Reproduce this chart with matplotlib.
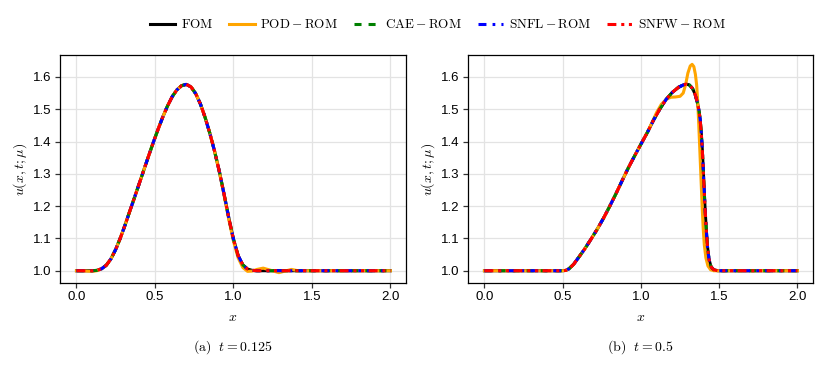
import matplotlib
matplotlib.use("Agg")
import matplotlib.pyplot as plt

plt.rcParams["font.family"] = ["Liberation Sans", "DejaVu Sans"]
plt.rcParams["mathtext.fontset"] = "cm"

# (a) t = 0.125
x_a = [0.00, 0.10, 0.13, 0.16, 0.19, 0.22, 0.25, 0.28, 0.31, 0.34, 0.37, 0.40,
       0.43, 0.46, 0.49, 0.52, 0.55, 0.58, 0.61, 0.64, 0.67, 0.70, 0.73, 0.76,
       0.79, 0.82, 0.85, 0.88, 0.91, 0.94, 0.97, 1.00, 1.03, 1.06, 1.09, 1.12,
       1.15, 2.00]
fom_a = [1.000, 1.000, 1.001, 1.006, 1.017, 1.037, 1.066, 1.102, 1.142, 1.185,
         1.227, 1.270, 1.313, 1.356, 1.398, 1.438, 1.476, 1.510, 1.539, 1.560,
         1.573, 1.577, 1.569, 1.548, 1.516, 1.474, 1.425, 1.370, 1.308, 1.238,
         1.165, 1.098, 1.047, 1.018, 1.005, 1.001, 1.000, 1.000]

x_a_pod = [0.00, 0.06, 0.10, 0.13, 0.16, 0.19, 0.22, 0.25, 0.28, 0.31, 0.34, 0.37,
           0.40, 0.43, 0.46, 0.49, 0.52, 0.55, 0.58, 0.61, 0.64, 0.67, 0.70, 0.73,
           0.76, 0.79, 0.82, 0.85, 0.88, 0.91, 0.94, 0.97, 1.00, 1.03, 1.06, 1.09,
           1.12, 1.15, 1.19, 1.24, 1.29, 1.33, 1.37, 1.41, 2.00]
pod_a = [1.000, 0.999, 0.998, 1.000, 1.006, 1.017, 1.037, 1.066, 1.102, 1.142,
         1.185, 1.227, 1.270, 1.313, 1.356, 1.398, 1.438, 1.476, 1.510, 1.539,
         1.560, 1.573, 1.577, 1.569, 1.548, 1.516, 1.474, 1.425, 1.370, 1.306,
         1.235, 1.160, 1.092, 1.040, 1.010, 0.998, 0.999, 1.004, 1.008, 1.001,
         0.994, 0.999, 1.004, 1.000, 1.000]

# (b) t = 0.5
x_b = [0.00, 0.50, 0.52, 0.54, 0.57, 0.60, 0.64, 0.68, 0.72, 0.76, 0.80, 0.84,
       0.88, 0.92, 0.96, 1.00, 1.04, 1.08, 1.12, 1.16, 1.20, 1.24, 1.27, 1.29,
       1.31, 1.33, 1.345, 1.36, 1.37, 1.378, 1.385, 1.392, 1.398, 1.404, 1.410,
       1.417, 1.425, 1.435, 1.448, 1.465, 1.49, 2.00]
fom_b = [1.000, 1.000, 1.001, 1.006, 1.020, 1.040, 1.067, 1.097, 1.128, 1.162,
         1.199, 1.238, 1.279, 1.319, 1.356, 1.392, 1.427, 1.466, 1.500, 1.530,
         1.552, 1.568, 1.575, 1.578, 1.575, 1.564, 1.548, 1.522, 1.498, 1.470,
         1.430, 1.375, 1.315, 1.250, 1.190, 1.130, 1.075, 1.035, 1.012, 1.003,
         1.000, 1.000]

x_b_pod = [0.00, 0.50, 0.52, 0.54, 0.57, 0.60, 0.64, 0.68, 0.72, 0.76, 0.80, 0.84,
           0.88, 0.92, 0.96, 1.00, 1.04, 1.07, 1.10, 1.13, 1.16, 1.19, 1.22, 1.25,
           1.27, 1.285, 1.30, 1.315, 1.327, 1.338, 1.348, 1.356, 1.362, 1.368,
           1.374, 1.380, 1.386, 1.392, 1.398, 1.405, 1.415, 1.428, 1.445, 1.465, 2.00]
pod_b = [1.000, 1.000, 1.001, 1.006, 1.020, 1.040, 1.067, 1.097, 1.128, 1.162,
         1.199, 1.238, 1.279, 1.319, 1.356, 1.392, 1.428, 1.458, 1.490, 1.515,
         1.530, 1.537, 1.538, 1.540, 1.550, 1.575, 1.612, 1.634, 1.639, 1.632,
         1.608, 1.575, 1.530, 1.470, 1.400, 1.330, 1.260, 1.190, 1.130, 1.080,
         1.040, 1.015, 1.003, 1.000, 1.000]

labels = [r"$\mathrm{FOM}$", r"$\mathrm{POD-ROM}$", r"$\mathrm{CAE-ROM}$",
          r"$\mathrm{SNFL-ROM}$", r"$\mathrm{SNFW-ROM}$"]
captions = [r"$\mathrm{(a)}\ \ t = 0.125$", r"$\mathrm{(b)}\ \ t = 0.5$"]

lw = 2.2
styles = [
    dict(color="black", lw=lw),
    dict(color="orange", lw=lw),
    dict(color="green", lw=lw, dashes=(2.3, 2.3)),
    dict(color="blue", lw=lw, dashes=(2.6, 2.0, 0.9, 2.0)),
    dict(color="red", lw=lw, dashes=(2.9, 1.6, 1.0, 1.5, 1.0, 1.5)),
]

fig = plt.figure(figsize=(8.3, 3.69), dpi=100)
ax_a = fig.add_axes([0.0723, 0.2331, 0.4169, 0.6179])
ax_b = fig.add_axes([0.5639, 0.2331, 0.4157, 0.6179])

panels = [(ax_a, x_a, fom_a, x_a_pod, pod_a), (ax_b, x_b, fom_b, x_b_pod, pod_b)]
for i, (ax, x, fom, xp, pod) in enumerate(panels):
    lines = []
    lines += ax.plot(x, fom, label=labels[0], **styles[0])
    lines += ax.plot(xp, pod, label=labels[1], **styles[1])
    for k in (2, 3, 4):
        lines += ax.plot(x, fom, label=labels[k], **styles[k])
    ax.set_xlim(-0.105, 2.1)
    ax.set_ylim(0.962, 1.668)
    ax.set_xticks([0.0, 0.5, 1.0, 1.5, 2.0])
    ax.set_yticks([1.0, 1.1, 1.2, 1.3, 1.4, 1.5, 1.6])
    ax.grid(True, color="#e3e3e3", lw=0.9)
    ax.set_axisbelow(True)
    ax.tick_params(labelsize=9.5, length=3.5, width=0.9, color="#333333", pad=2.5)
    for sp in ax.spines.values():
        sp.set_linewidth(0.9)
    ax.set_xlabel(r"$x$", fontsize=10, labelpad=5)
    ax.set_ylabel(r"$u(x,t;\mu)$", fontsize=10, labelpad=3)
    cx = ax.get_position().x0 + ax.get_position().width / 2
    fig.text(cx, 0.058, captions[i], ha="center", va="center", fontsize=10)

fig.legend(handles=lines, loc="center", bbox_to_anchor=(0.528, 0.933), ncol=5,
           frameon=False, fontsize=9.5, handlelength=1.9, handletextpad=0.45,
           columnspacing=1.2)

fig.savefig("out.png", dpi=100)
